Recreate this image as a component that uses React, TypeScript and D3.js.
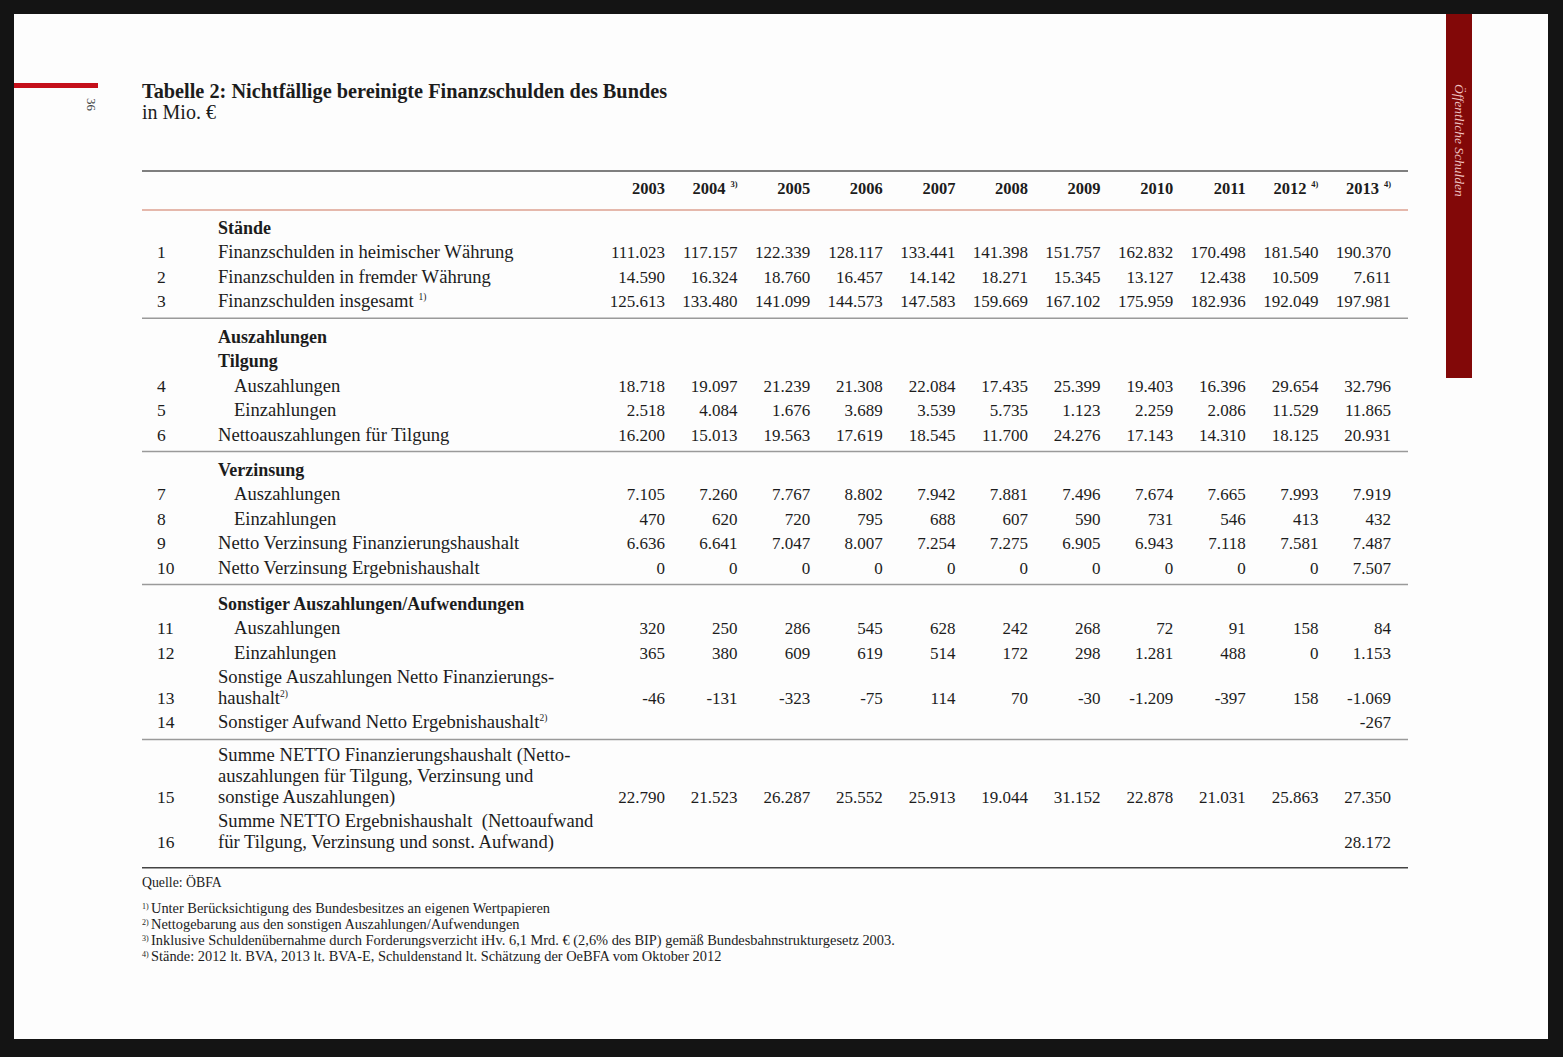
import React from 'react';
import * as d3 from 'd3';

// ---------- data ----------
const years = ['2003', '2004', '2005', '2006', '2007', '2008', '2009', '2010', '2011', '2012', '2013'];
const yearNotes = ['', '3)', '', '', '', '', '', '', '', '4)', '4)'];

const heimisch = [111023, 117157, 122339, 128117, 133441, 141398, 151757, 162832, 170498, 181540, 190370];
const fremd = [14590, 16324, 18760, 16457, 14142, 18271, 15345, 13127, 12438, 10509, 7611];
const insgesamt = [125613, 133480, 141099, 144573, 147583, 159669, 167102, 175959, 182936, 192049, 197981];
const tilgungAus = [18718, 19097, 21239, 21308, 22084, 17435, 25399, 19403, 16396, 29654, 32796];
const tilgungEin = [2518, 4084, 1676, 3689, 3539, 5735, 1123, 2259, 2086, 11529, 11865];
const tilgungNetto = [16200, 15013, 19563, 17619, 18545, 11700, 24276, 17143, 14310, 18125, 20931];
const zinsAus = [7105, 7260, 7767, 8802, 7942, 7881, 7496, 7674, 7665, 7993, 7919];
const zinsEin = [470, 620, 720, 795, 688, 607, 590, 731, 546, 413, 432];
const zinsNettoFin = [6636, 6641, 7047, 8007, 7254, 7275, 6905, 6943, 7118, 7581, 7487];
const zinsNettoErg = [0, 0, 0, 0, 0, 0, 0, 0, 0, 0, 7507];
const sonstAus = [320, 250, 286, 545, 628, 242, 268, 72, 91, 158, 84];
const sonstEin = [365, 380, 609, 619, 514, 172, 298, 1281, 488, 0, 1153];
const sonstNettoFin = [-46, -131, -323, -75, 114, 70, -30, -1209, -397, 158, -1069];
const sonstNettoErg: (number | null)[] = [null, null, null, null, null, null, null, null, null, null, -267];
const summeFin = [22790, 21523, 26287, 25552, 25913, 19044, 31152, 22878, 21031, 25863, 27350];
const summeErg: (number | null)[] = [null, null, null, null, null, null, null, null, null, null, 28172];

const title = 'Tabelle 2: Nichtfällige bereinigte Finanzschulden des Bundes';
const subtitle = 'in Mio. €';
const source = 'Quelle: ÖBFA';
const footnotes: [string, string][] = [
  ['1)', 'Unter Berücksichtigung des Bundesbesitzes an eigenen Wertpapieren'],
  ['2)', 'Nettogebarung aus den sonstigen Auszahlungen/Aufwendungen'],
  ['3)', 'Inklusive Schuldenübernahme durch Forderungsverzicht iHv. 6,1 Mrd. € (2,6% des BIP) gemäß Bundesbahnstrukturgesetz 2003.'],
  ['4)', 'Stände: 2012 lt. BVA, 2013 lt. BVA-E, Schuldenstand lt. Schätzung der OeBFA vom Oktober 2012'],
];

type Item =
  | { kind: 'head'; label: string }
  | { kind: 'data'; num: string; lines: string[]; sup?: string; indent?: boolean; values: (number | null)[] };

const sections: Item[][] = [
  [
    { kind: 'head', label: 'Stände' },
    { kind: 'data', num: '1', lines: ['Finanzschulden in heimischer Währung'], values: heimisch },
    { kind: 'data', num: '2', lines: ['Finanzschulden in fremder Währung'], values: fremd },
    { kind: 'data', num: '3', lines: ['Finanzschulden insgesamt '], sup: '1)', values: insgesamt },
  ],
  [
    { kind: 'head', label: 'Auszahlungen' },
    { kind: 'head', label: 'Tilgung' },
    { kind: 'data', num: '4', lines: ['Auszahlungen'], indent: true, values: tilgungAus },
    { kind: 'data', num: '5', lines: ['Einzahlungen'], indent: true, values: tilgungEin },
    { kind: 'data', num: '6', lines: ['Nettoauszahlungen für Tilgung'], values: tilgungNetto },
  ],
  [
    { kind: 'head', label: 'Verzinsung' },
    { kind: 'data', num: '7', lines: ['Auszahlungen'], indent: true, values: zinsAus },
    { kind: 'data', num: '8', lines: ['Einzahlungen'], indent: true, values: zinsEin },
    { kind: 'data', num: '9', lines: ['Netto Verzinsung Finanzierungshaushalt'], values: zinsNettoFin },
    { kind: 'data', num: '10', lines: ['Netto Verzinsung Ergebnishaushalt'], values: zinsNettoErg },
  ],
  [
    { kind: 'head', label: 'Sonstiger Auszahlungen/Aufwendungen' },
    { kind: 'data', num: '11', lines: ['Auszahlungen'], indent: true, values: sonstAus },
    { kind: 'data', num: '12', lines: ['Einzahlungen'], indent: true, values: sonstEin },
    { kind: 'data', num: '13', lines: ['Sonstige Auszahlungen Netto Finanzierungs-', 'haushalt'], sup: '2)', values: sonstNettoFin },
    { kind: 'data', num: '14', lines: ['Sonstiger Aufwand Netto Ergebnishaushalt'], sup: '2)', values: sonstNettoErg },
  ],
  [
    {
      kind: 'data', num: '15',
      lines: ['Summe NETTO Finanzierungshaushalt (Netto-', 'auszahlungen für Tilgung, Verzinsung und', 'sonstige Auszahlungen)'],
      values: summeFin,
    },
    {
      kind: 'data', num: '16',
      lines: ['Summe NETTO Ergebnishaushalt  (Nettoaufwand', 'für Tilgung, Verzinsung und sonst. Aufwand)'],
      values: summeErg,
    },
  ],
];

// ---------- layout ----------
const W = 1563;
const H = 1057;
const FONT = '"Liberation Serif", "Times New Roman", serif';
const INK = '#1c1c1c';
const TL = 142;
const TR = 1408;
const numX = 157;
const labelX = 218;
const indentX = 234;
const sectionStart = [234, 343, 476, 610, 761];
const rowGap = 24.4;
const wrapGap = 20.8;

const de = d3.formatLocale({ decimal: ',', thousands: '.', grouping: [3], currency: ['', ' €'], minus: '-' });
const fmt = de.format(',d');

export default function App() {
  const x = d3.scalePoint<string>().domain(years).range([665, 1391]);

  type Placed = { item: Item; ys: number[] };
  const placed: Placed[][] = sections.map((sec, si) => {
    let y = sectionStart[si];
    const out: Placed[] = [];
    sec.forEach((item, ii) => {
      if (ii > 0) y += rowGap;
      const n = item.kind === 'data' ? item.lines.length : 1;
      const ys: number[] = [];
      for (let k = 0; k < n; k++) {
        if (k > 0) y += wrapGap;
        ys.push(y);
      }
      out.push({ item, ys });
    });
    return out;
  });
  const lastY = (si: number) => {
    const s = placed[si];
    const p = s[s.length - 1];
    return p.ys[p.ys.length - 1];
  };
  const ruleYs = [0, 1, 2, 3].map((si) => lastY(si) + 11);
  const bottomRule = lastY(4) + 20;

  return (
    <svg width={W} height={H} style={{ position: 'absolute', left: 0, top: 0 }} fontFamily={FONT}>
      <rect x={0} y={0} width={W} height={H} fill="#141414" />
      <rect x={14} y={14} width={1534} height={1025} fill="#fdfdfd" />
      {/* side markers */}
      <rect x={14} y={83} width={84} height={5} fill="#c5101b" />
      <text transform="translate(87,98) rotate(90)" fontSize={13} fill="#444">36</text>
      <rect x={1446} y={14} width={26} height={364} fill="#820808" />
      <text transform="translate(1455,84) rotate(90)" fontSize={13.5} fontStyle="italic" fill="#f0c2c2">
        Öffentliche Schulden
      </text>

      {/* title */}
      <text x={TL} y={98} fontSize={20.3} fontWeight="bold" fill={INK}>{title}</text>
      <text x={TL} y={119} fontSize={20} fill={INK}>{subtitle}</text>

      {/* header */}
      <line x1={TL} x2={TR} y1={171} y2={171} stroke="#555" strokeWidth={1.5} />
      {years.map((yr, i) => (
        <text key={yr} x={(x(yr) as number) - (yearNotes[i] ? 12 : 0)} y={194} textAnchor="end"
          fontSize={16.5} fontWeight="bold" fill={INK}>
          {yr}
        </text>
      ))}
      {years.map((yr, i) =>
        yearNotes[i] ? (
          <text key={'n' + yr} x={x(yr) as number} y={187} textAnchor="end" fontSize={8.5} fontWeight="bold" fill={INK}>
            {yearNotes[i]}
          </text>
        ) : null
      )}
      <line x1={TL} x2={TR} y1={210} y2={210} stroke="#dca090" strokeWidth={1.5} />

      {/* body */}
      {placed.map((sec, si) => (
        <g key={si}>
          {sec.map((p, pi) => {
            const it = p.item;
            if (it.kind === 'head') {
              return (
                <text key={pi} x={labelX} y={p.ys[0]} fontSize={18} fontWeight="bold" fill={INK}>
                  {it.label}
                </text>
              );
            }
            const vy = p.ys[p.ys.length - 1];
            return (
              <g key={pi}>
                <text x={numX} y={vy} fontSize={17.5} fill={INK}>{it.num}</text>
                {it.lines.map((ln, li) => (
                  <text key={li} x={it.indent ? indentX : labelX} y={p.ys[li]} fontSize={18.6} fill={INK}
                    style={{ whiteSpace: 'pre' }}>
                    {ln}
                    {it.sup && li === it.lines.length - 1 ? (
                      <tspan fontSize={9.5} dy={-7}>{it.sup}</tspan>
                    ) : null}
                  </text>
                ))}
                {it.values.map((v, vi) =>
                  v === null ? null : (
                    <text key={vi} x={x(years[vi]) as number} y={vy} textAnchor="end" fontSize={17} fill={INK}>
                      {fmt(v)}
                    </text>
                  )
                )}
              </g>
            );
          })}
        </g>
      ))}
      {ruleYs.map((ry, i) => (
        <line key={i} x1={TL} x2={TR} y1={ry} y2={ry} stroke="#9a9a9a" strokeWidth={1.5} />
      ))}
      <line x1={TL} x2={TR} y1={bottomRule} y2={bottomRule} stroke="#444" strokeWidth={1.5} />

      {/* source & footnotes */}
      <text x={TL} y={887} fontSize={13.8} fill={INK}>{source}</text>
      {footnotes.map(([mark, txt], i) => (
        <g key={mark}>
          <text x={TL} y={909 + i * 16} fontSize={8} fill={INK}>{mark}</text>
          <text x={151} y={913 + i * 16} fontSize={14.4} fill={INK}>{txt}</text>
        </g>
      ))}
    </svg>
  );
}
